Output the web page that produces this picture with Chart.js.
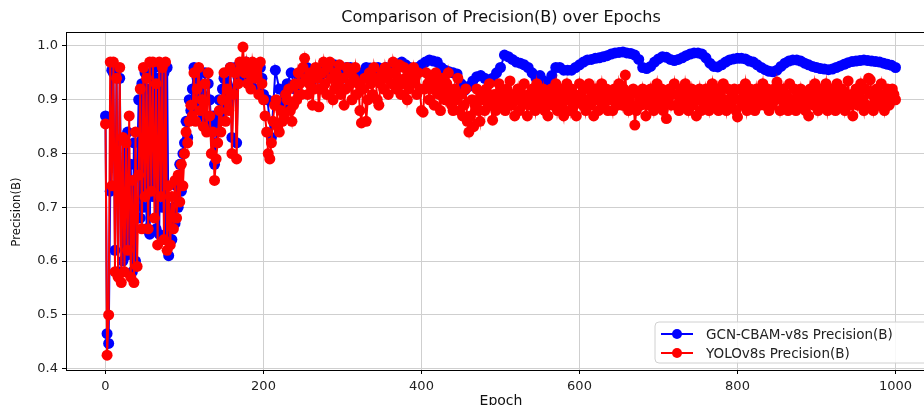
<!DOCTYPE html>
<html>
<head>
<meta charset="utf-8">
<script src="https://cdn.jsdelivr.net/npm/chart.js@4.4.1/dist/chart.umd.min.js"></script>
<style>
  html, body { margin: 0; padding: 0; background: #fff; overflow: hidden; }
  #wrap { width: 950px; height: 405px; }
</style>
</head>
<body>
<div id="wrap"><canvas id="chart-precision" width="950" height="405"></canvas></div>
<script>
// epochs 0..200 sampled every 2 for both runs
const epochsEarly = [0,2,4,6,8,10,12,14,16,18,20,22,24,26,28,30,32,34,36,38,40,42,44,46,48,50,52,54,56,58,60,62,64,66,68,70,72,74,76,78,80,82,84,86,88,90,92,94,96,98,100,102,104,106,108,110,112,114,116,118,120,122,124,126,128,130,132,134,136,138,140,142,144,146,148,150,152,154,156,158,160,162,164,166,168,170,172,174,176,178,180,182,184,186,188,190,192,194,196,198,200];
// GCN run after 200: every 5 epochs (smooth curve)
const epochsGcnLate = [205,210,215,220,225,230,235,240,245,250,255,260,265,270,275,280,285,290,295,300,305,310,315,320,325,330,335,340,345,350,355,360,365,370,375,380,385,390,395,400,405,410,415,420,425,430,435,440,445,450,455,460,465,470,475,480,485,490,495,500,505,510,515,520,525,530,535,540,545,550,555,560,565,570,575,580,585,590,595,600,605,610,615,620,625,630,635,640,645,650,655,660,665,670,675,680,685,690,695,700,705,710,715,720,725,730,735,740,745,750,755,760,765,770,775,780,785,790,795,800,805,810,815,820,825,830,835,840,845,850,855,860,865,870,875,880,885,890,895,900,905,910,915,920,925,930,935,940,945,950,955,960,965,970,975,980,985,990,995,1000];
// YOLO run after 200: every 2 epochs (noisy band)
const epochsYoloLate = [
  202,204,206,208,210,212,214,216,218,220,222,224,226,228,230,232,234,236,238,240,
  242,244,246,248,250,252,254,256,258,260,262,264,266,268,270,272,274,276,278,280,
  282,284,286,288,290,292,294,296,298,300,302,304,306,308,310,312,314,316,318,320,
  322,324,326,328,330,332,334,336,338,340,342,344,346,348,350,352,354,356,358,360,
  362,364,366,368,370,372,374,376,378,380,382,384,386,388,390,392,394,396,398,400,
  402,404,406,408,410,412,414,416,418,420,422,424,426,428,430,432,434,436,438,440,
  442,444,446,448,450,452,454,456,458,460,462,464,466,468,470,472,474,476,478,480,
  482,484,486,488,490,492,494,496,498,500,502,504,506,508,510,512,514,516,518,520,
  522,524,526,528,530,532,534,536,538,540,542,544,546,548,550,552,554,556,558,560,
  562,564,566,568,570,572,574,576,578,580,582,584,586,588,590,592,594,596,598,600,
  602,604,606,608,610,612,614,616,618,620,622,624,626,628,630,632,634,636,638,640,
  642,644,646,648,650,652,654,656,658,660,662,664,666,668,670,672,674,676,678,680,
  682,684,686,688,690,692,694,696,698,700,702,704,706,708,710,712,714,716,718,720,
  722,724,726,728,730,732,734,736,738,740,742,744,746,748,750,752,754,756,758,760,
  762,764,766,768,770,772,774,776,778,780,782,784,786,788,790,792,794,796,798,800,
  802,804,806,808,810,812,814,816,818,820,822,824,826,828,830,832,834,836,838,840,
  842,844,846,848,850,852,854,856,858,860,862,864,866,868,870,872,874,876,878,880,
  882,884,886,888,890,892,894,896,898,900,902,904,906,908,910,912,914,916,918,920,
  922,924,926,928,930,932,934,936,938,940,942,944,946,948,950,952,954,956,958,960,
  962,964,966,968,970,972,974,976,978,980,982,984,986,988,990,992,994,996,998,1000
];

const gcnEarly = [
  0.87,0.465,0.447,0.73,0.955,0.95,0.62,0.955,0.58,0.94,
  0.72,0.60,0.83,0.61,0.84,0.62,0.78,0.58,0.82,0.60,
  0.78,0.90,0.68,0.93,0.70,0.95,0.66,0.92,0.65,0.95,
  0.72,0.96,0.66,0.94,0.65,0.96,0.70,0.95,0.64,0.96,
  0.61,0.68,0.64,0.70,0.67,0.74,0.70,0.78,0.73,0.80,
  0.82,0.86,0.83,0.90,0.88,0.92,0.96,0.89,0.94,0.92,
  0.89,0.91,0.87,0.95,0.86,0.93,0.90,0.85,0.87,0.78,
  0.82,0.86,0.90,0.87,0.92,0.94,0.89,0.93,0.90,0.96,
  0.83,0.92,0.96,0.82,0.94,0.96,0.95,0.97,0.96,0.97,
  0.94,0.96,0.93,0.96,0.95,0.95,0.96,0.92,0.96,0.94,
  0.91
];
const gcnLate = [
  0.90,0.83,0.955,0.92,0.89,0.93,0.95,0.92,0.94,0.955,
  0.96,0.93,0.95,0.94,0.96,0.95,0.96,0.965,0.95,0.94,
  0.96,0.96,0.95,0.94,0.95,0.96,0.959,0.95,0.96,0.955,
  0.96,0.95,0.965,0.96,0.97,0.965,0.96,0.955,0.96,0.965,
  0.97,0.974,0.972,0.97,0.96,0.955,0.952,0.95,0.948,0.93,
  0.918,0.925,0.935,0.943,0.945,0.94,0.935,0.94,0.95,0.96,
  0.983,0.98,0.975,0.97,0.968,0.965,0.96,0.95,0.94,0.945,
  0.935,0.93,0.945,0.96,0.96,0.955,0.955,0.955,0.96,0.965,
  0.97,0.974,0.975,0.977,0.978,0.98,0.982,0.985,0.987,0.988,
  0.989,0.987,0.986,0.983,0.975,0.96,0.958,0.962,0.97,0.976,
  0.98,0.979,0.975,0.973,0.975,0.978,0.982,0.985,0.987,0.987,
  0.985,0.978,0.968,0.962,0.961,0.965,0.97,0.974,0.976,0.977,
  0.977,0.976,0.972,0.97,0.965,0.96,0.956,0.953,0.952,0.955,
  0.962,0.968,0.972,0.974,0.974,0.972,0.968,0.965,0.962,0.96,
  0.958,0.957,0.956,0.957,0.96,0.963,0.966,0.969,0.971,0.972,
  0.973,0.974,0.973,0.972,0.971,0.97,0.968,0.966,0.964,0.96
];

const yoloEarly = [
  0.855,0.425,0.50,0.97,0.74,0.97,0.58,0.94,0.57,0.96,
  0.56,0.83,0.58,0.82,0.62,0.87,0.57,0.75,0.56,0.84,
  0.59,0.76,0.92,0.66,0.96,0.72,0.94,0.66,0.97,0.73,
  0.97,0.68,0.93,0.63,0.97,0.72,0.96,0.64,0.97,0.62,
  0.74,0.63,0.72,0.66,0.75,0.68,0.76,0.71,0.78,0.74,
  0.80,0.84,0.82,0.86,0.89,0.87,0.95,0.86,0.92,0.96,
  0.88,0.90,0.85,0.93,0.84,0.95,0.87,0.80,0.84,0.75,
  0.79,0.82,0.88,0.84,0.90,0.95,0.86,0.92,0.88,0.96,
  0.80,0.91,0.95,0.79,0.93,0.97,0.96,0.998,0.95,0.97,
  0.93,0.96,0.92,0.97,0.95,0.94,0.96,0.91,0.97,0.93,
  0.90
];
const yoloLate = [
  0.87,0.84,0.80,0.79,0.82,0.86,0.89,0.90,0.85,0.84,0.88,0.86,0.87,0.91,0.90,0.92,0.88,0.86,0.89,0.93,
  0.90,0.95,0.93,0.91,0.96,0.977,0.94,0.91,0.93,0.95,0.89,0.92,0.96,0.94,0.887,0.92,0.95,0.97,0.93,0.91,
  0.96,0.97,0.94,0.90,0.92,0.95,0.93,0.965,0.91,0.94,0.89,0.92,0.96,0.95,0.93,0.90,0.94,0.96,0.91,0.93,
  0.88,0.857,0.92,0.94,0.86,0.90,0.95,0.93,0.91,0.96,0.94,0.90,0.89,0.93,0.95,0.92,0.96,0.94,0.91,0.95,
  0.93,0.97,0.95,0.92,0.94,0.965,0.91,0.93,0.96,0.94,0.90,0.92,0.95,0.93,0.96,0.94,0.91,0.95,0.92,0.88,
  0.877,0.92,0.95,0.93,0.90,0.94,0.92,0.89,0.95,0.93,0.91,0.88,0.94,0.92,0.90,0.93,0.95,0.91,0.89,0.88,
  0.92,0.90,0.94,0.88,0.91,0.87,0.89,0.92,0.86,0.84,0.87,0.90,0.85,0.89,0.92,0.88,0.86,0.91,0.90,0.88,
  0.92,0.90,0.93,0.89,0.862,0.91,0.88,0.90,0.93,0.92,0.89,0.91,0.88,0.92,0.90,0.935,0.89,0.91,0.87,0.90,
  0.92,0.88,0.91,0.89,0.93,0.90,0.87,0.91,0.89,0.92,0.90,0.88,0.93,0.91,0.89,0.90,0.92,0.88,0.91,0.87,
  0.90,0.92,0.89,0.91,0.93,0.88,0.90,0.92,0.89,0.87,0.91,0.93,0.90,0.88,0.92,0.89,0.91,0.87,0.90,0.93,
  0.91,0.89,0.92,0.88,0.90,0.93,0.89,0.91,0.87,0.92,0.90,0.88,0.91,0.93,0.89,0.90,0.92,0.88,0.91,0.90,
  0.88,0.92,0.90,0.89,0.93,0.91,0.89,0.92,0.946,0.90,0.88,0.91,0.89,0.92,0.853,0.88,0.91,0.90,0.89,0.92,
  0.90,0.87,0.91,0.89,0.92,0.90,0.88,0.91,0.93,0.89,0.90,0.92,0.88,0.91,0.865,0.90,0.92,0.89,0.91,0.93,
  0.89,0.91,0.88,0.92,0.90,0.89,0.93,0.91,0.88,0.90,0.92,0.89,0.91,0.87,0.90,0.92,0.88,0.91,0.89,0.92,
  0.90,0.88,0.91,0.93,0.89,0.90,0.92,0.88,0.91,0.89,0.93,0.90,0.88,0.92,0.90,0.89,0.91,0.92,0.88,0.868,
  0.90,0.92,0.89,0.91,0.93,0.88,0.90,0.92,0.89,0.91,0.88,0.92,0.90,0.89,0.91,0.93,0.89,0.90,0.92,0.88,
  0.91,0.89,0.92,0.90,0.933,0.91,0.88,0.90,0.92,0.89,0.91,0.88,0.93,0.90,0.89,0.92,0.88,0.91,0.90,0.92,
  0.89,0.91,0.88,0.90,0.87,0.92,0.90,0.89,0.93,0.91,0.88,0.90,0.92,0.89,0.91,0.93,0.88,0.90,0.92,0.89,
  0.91,0.88,0.93,0.90,0.89,0.92,0.91,0.88,0.90,0.935,0.89,0.91,0.87,0.90,0.92,0.89,0.91,0.93,0.90,0.88,
  0.92,0.89,0.94,0.937,0.91,0.88,0.90,0.92,0.89,0.91,0.93,0.90,0.88,0.91,0.92,0.89,0.90,0.92,0.91,0.90
];

const xTicks = [0, 200, 400, 600, 800, 1000];
const yTicks = [0.4, 0.5, 0.6, 0.7, 0.8, 0.9, 1.0];

const seriesNames = ['GCN-CBAM-v8s Precision(B)', 'YOLOv8s Precision(B)'];
const seriesColors = ['#0000ff', '#ff0000'];

function toPoints(xs, vals) {
  return xs.map((e, i) => ({ x: e, y: vals[i] }));
}

const gcnPoints = toPoints(epochsEarly.concat(epochsGcnLate), gcnEarly.concat(gcnLate));
const yoloPoints = toPoints(epochsEarly.concat(epochsYoloLate), yoloEarly.concat(yoloLate));

// title, axis names, frame and legend drawn by hand so they sit like the original
const decorations = {
  id: 'decorations',
  afterDraw(chart) {
    const ctx = chart.ctx;
    const area = chart.chartArea;
    ctx.save();

    // frame
    ctx.strokeStyle = '#000';
    ctx.lineWidth = 1;
    ctx.strokeRect(area.left + 0.5, area.top + 0.5, area.right - area.left - 1, area.bottom - area.top);

    // title
    ctx.fillStyle = '#111';
    ctx.font = '16px "DejaVu Sans"';
    ctx.textAlign = 'center';
    ctx.textBaseline = 'middle';
    ctx.fillText('Comparison of Precision(B) over Epochs', 501, 18);

    // axis names
    ctx.font = '14px "DejaVu Sans"';
    ctx.textBaseline = 'top';
    ctx.fillText('Epoch', 501, 394);

    ctx.save();
    ctx.translate(17, 212);
    ctx.rotate(-Math.PI / 2);
    ctx.font = '13px "DejaVu Sans Condensed", "Liberation Sans Narrow", "DejaVu Sans"';
    ctx.textBaseline = 'middle';
    ctx.fillText('Precision(B)', 0, 0);
    ctx.restore();

    // legend
    const bx = 655, by = 322, bw = 275, bh = 41, r = 4;
    ctx.beginPath();
    ctx.moveTo(bx + r, by);
    ctx.lineTo(bx + bw - r, by);
    ctx.arcTo(bx + bw, by, bx + bw, by + r, r);
    ctx.lineTo(bx + bw, by + bh - r);
    ctx.arcTo(bx + bw, by + bh, bx + bw - r, by + bh, r);
    ctx.lineTo(bx + r, by + bh);
    ctx.arcTo(bx, by + bh, bx, by + bh - r, r);
    ctx.lineTo(bx, by + r);
    ctx.arcTo(bx, by, bx + r, by, r);
    ctx.closePath();
    ctx.fillStyle = 'rgba(255,255,255,0.85)';
    ctx.fill();
    ctx.strokeStyle = '#d0d0d0';
    ctx.stroke();

    const rows = [334, 353];
    ctx.font = '13.5px "DejaVu Sans"';
    ctx.textAlign = 'left';
    ctx.textBaseline = 'middle';
    seriesNames.forEach((name, i) => {
      const yy = rows[i];
      ctx.strokeStyle = seriesColors[i];
      ctx.lineWidth = 2;
      ctx.beginPath();
      ctx.moveTo(661, yy);
      ctx.lineTo(693, yy);
      ctx.stroke();
      ctx.fillStyle = seriesColors[i];
      ctx.beginPath();
      ctx.arc(677, yy, 5, 0, Math.PI * 2);
      ctx.fill();
      ctx.fillStyle = '#222';
      ctx.fillText(name, 706, yy + 1);
    });

    ctx.restore();
  }
};

const precisionCanvas = document.getElementById('chart-precision');
const precisionChart = new Chart(precisionCanvas, {
  type: 'line',
  data: {
    datasets: [{
      label: seriesNames[0],
      data: gcnPoints,
      borderColor: seriesColors[0],
      backgroundColor: seriesColors[0],
      pointBackgroundColor: seriesColors[0],
      order: 1
    }, {
      label: seriesNames[1],
      data: yoloPoints,
      borderColor: seriesColors[1],
      backgroundColor: seriesColors[1],
      pointBackgroundColor: seriesColors[1],
      order: 0
    }]
  },
  options: {
    responsive: false,
    animation: false,
    events: [],
    layout: {
      padding: { left: 0, right: 15, top: 32, bottom: 0 }
    },
    elements: {
      line: { borderWidth: 2, tension: 0, fill: false },
      point: { radius: 5.5, borderWidth: 0, hoverRadius: 5.5 }
    },
    scales: {
      x: {
        type: 'linear',
        min: -50,
        max: 1050,
        afterBuildTicks(scale) {
          scale.ticks = xTicks.map(v => ({ value: v }));
        },
        afterFit(scale) {
          scale.height = 35;
        },
        grid: {
          color: '#cfcfcf',
          lineWidth: 1,
          tickColor: '#000',
          tickLength: 4
        },
        border: { color: '#000', width: 1 },
        ticks: {
          color: '#222',
          font: { family: 'DejaVu Sans', size: 13 },
          padding: 5,
          maxRotation: 0,
          callback: v => String(v)
        }
      },
      y: {
        type: 'linear',
        min: 0.3975,
        max: 1.026,
        afterBuildTicks(scale) {
          scale.ticks = yTicks.map(v => ({ value: v }));
        },
        afterFit(scale) {
          scale.width = 66;
        },
        grid: {
          color: '#cfcfcf',
          lineWidth: 1,
          tickColor: '#000',
          tickLength: 4
        },
        border: { color: '#000', width: 1 },
        ticks: {
          color: '#222',
          font: { family: 'DejaVu Sans', size: 13 },
          padding: 4,
          callback: v => v.toFixed(1)
        }
      }
    },
    plugins: {
      legend: { display: false },
      title: { display: false },
      tooltip: { enabled: false }
    }
  },
  plugins: [decorations]
});
</script>
</body>
</html>
